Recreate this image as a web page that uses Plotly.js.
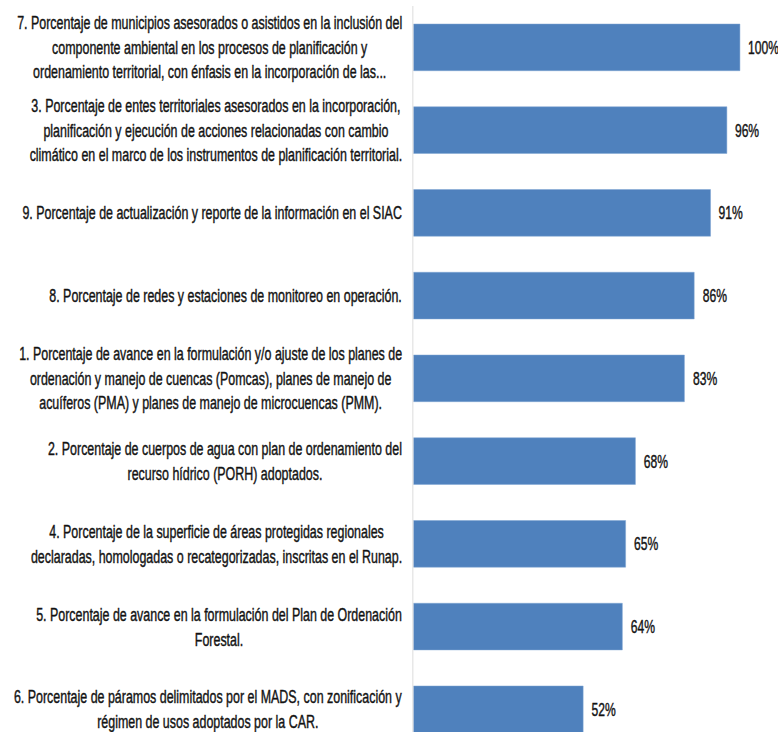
<!DOCTYPE html>
<html>
<head>
<meta charset="utf-8">
<script src="https://cdn.plot.ly/plotly-3.0.1.min.js"></script>
<style>
  html, body { margin: 0; padding: 0; background: #fff; overflow: hidden; }
  #wrap { width: 778px; height: 732px; overflow: hidden; }
  #chart { transform-origin: 0 0; }
  #chart .annotation-text { stroke: #1a1a1a; stroke-width: 0.45px; }
</style>
</head>
<body>
<div id="wrap"><div id="chart"></div></div>
<script>
// Category labels, top to bottom
const labels = [
  "7. Porcentaje de municipios asesorados o asistidos en la inclusión del<br>componente ambiental en los procesos de planificación y<br>ordenamiento territorial, con énfasis en la incorporación de las...",
  "3. Porcentaje de entes territoriales asesorados en la incorporación,<br>planificación y ejecución de acciones relacionadas con cambio<br>climático en el marco de los instrumentos de planificación territorial.",
  "9. Porcentaje de actualización y reporte de la información en el SIAC",
  "8. Porcentaje de redes y estaciones de monitoreo en operación.",
  "1. Porcentaje de avance en la formulación y/o ajuste de los planes de<br>ordenación y manejo de cuencas (Pomcas), planes de manejo de<br>acuíferos (PMA) y planes de manejo de microcuencas (PMM).",
  "2. Porcentaje de cuerpos de agua con plan de ordenamiento del<br>recurso hídrico (PORH) adoptados.",
  "4. Porcentaje de la superficie de áreas protegidas regionales<br>declaradas, homologadas o recategorizadas, inscritas en el Runap.",
  "5. Porcentaje de avance en la formulación del Plan de Ordenación<br>Forestal.",
  "6. Porcentaje de páramos delimitados por el MADS, con zonificación y<br>régimen de usos adoptados por la CAR."
];
// Values (%)
const values = [100, 96, 91, 86, 83, 68, 65, 64, 52];
const valueLabels = values.map(v => v + "%");

const S = 0.655;              // horizontal condensing factor (narrow font look)
const W = Math.round(778 / S), H = 732;
document.getElementById('chart').style.transform = 'scaleX(' + S + ')';

const FONT = '"Liberation Sans", Arial, sans-serif';

const trace = {
  type: 'bar',
  orientation: 'h',
  x: values,
  y: labels,
  marker: { color: '#4F81BD', line: { color: '#7ea3d3', width: 0.6 } },
  hoverinfo: 'none'
};

const annotations = [];
labels.forEach((lab, i) => {
  annotations.push({
    xref: 'paper', yref: 'y', x: 0, y: lab,
    text: lab, showarrow: false,
    xanchor: 'right', yanchor: 'middle', align: 'center',
    xshift: -10 / S,
    font: { family: FONT, size: 19, color: '#111111' }
  });
  annotations.push({
    xref: 'x', yref: 'y', x: values[i], y: lab,
    text: valueLabels[i], showarrow: false,
    xanchor: 'left', yanchor: 'middle',
    xshift: 7 / S,
    font: { family: FONT, size: 18.5, color: '#111111' }
  });
});

const layout = {
  width: W, height: H,
  margin: { l: 413 / S, r: 0, t: 6, b: 0, pad: 0 },
  paper_bgcolor: '#fff', plot_bgcolor: '#fff',
  showlegend: false,
  bargap: 0.436,
  xaxis: {
    range: [0, 111.7], showgrid: false, zeroline: false,
    showticklabels: false, showline: false, ticks: ''
  },
  yaxis: {
    type: 'category', categoryorder: 'array', categoryarray: labels,
    range: [8.274, -0.5],
    showgrid: false, zeroline: false, showticklabels: false,
    showline: true, linecolor: '#d9d9d9', linewidth: 1.4, ticks: ''
  },
  annotations: annotations,
  font: { family: FONT }
};

Plotly.newPlot('chart', [trace], layout, { displayModeBar: false, staticPlot: true });
</script>
</body>
</html>
